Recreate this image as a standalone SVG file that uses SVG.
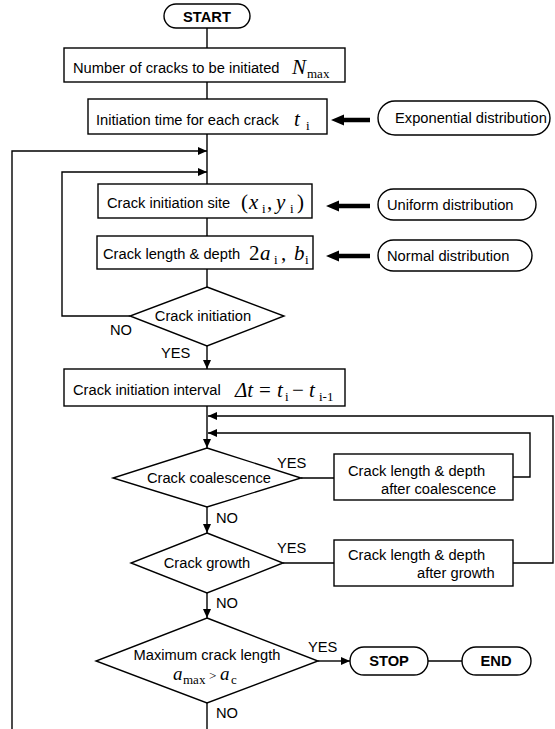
<svg xmlns="http://www.w3.org/2000/svg" width="555" height="729" viewBox="0 0 555 729">
<defs>
<style>
.t{font-family:"Liberation Sans",Arial,sans-serif;font-size:14.7px;fill:#000}
.b{font-weight:bold}
.m{font-family:"Liberation Serif","Times New Roman",serif;font-size:21px;font-style:italic;fill:#000}
.u{font-style:normal}
.sb{font-size:13px;font-style:normal}
.box{fill:#fff;stroke:#000;stroke-width:1.4}
.ln{fill:none;stroke:#000;stroke-width:1.4}
.arr{marker-end:url(#ah)}
.thick{fill:#000;stroke:none}
</style>
<marker id="ah" markerWidth="10" markerHeight="8" refX="9" refY="4" orient="auto" markerUnits="userSpaceOnUse"><path d="M0,0 L9,4 L0,8 z" fill="#000"/></marker>
</defs>
<rect width="555" height="729" fill="#fff"/>

<g id="connectors">
<path class="ln" d="M207,28 V48 M207,82 V99 M207,134 V184 M207,218 V236 M207,269 V287"/>
<path class="ln arr" d="M207,346 V369"/>
<path class="ln arr" d="M207,406 V448"/>
<path class="ln arr" d="M207,507 V533"/>
<path class="ln arr" d="M207,593 V618"/>
<path class="ln" d="M207,703 V729"/>
<path class="ln arr" d="M12,729 V151 H207"/>
<path class="ln arr" d="M130,316 H62 V172 H207"/>
<path class="ln" d="M301,478 H334 M283,563 H334"/>
<path class="ln arr" d="M513,477 H530 V433 H208"/>
<path class="ln arr" d="M513,563 H553 V416 H208"/>
<path class="ln arr" d="M318,661 H350"/>
<path class="ln" d="M428,661 H462"/>
<path class="thick" d="M331,120 L344,114.5 L344,117.8 L370,117.8 L370,122.2 L344,122.2 L344,125.5 Z"/>
<path class="thick" d="M326,206 L339,200.5 L339,203.8 L370,203.8 L370,208.2 L339,208.2 L339,211.5 Z"/>
<path class="thick" d="M326,256 L339,250.5 L339,253.8 L370,253.8 L370,258.2 L339,258.2 L339,261.5 Z"/>
<text class="t" x="110" y="335">NO</text>
<text class="t" x="161" y="358">YES</text>
<text class="t" x="277" y="468">YES</text>
<text class="t" x="216" y="523">NO</text>
<text class="t" x="277" y="553">YES</text>
<text class="t" x="216" y="608">NO</text>
<text class="t" x="308" y="652">YES</text>
<text class="t" x="216" y="718">NO</text>
</g>

<g id="start">
<rect class="box" x="164" y="4" width="86" height="24" rx="12"/>
<text class="t b" x="207" y="21.5" text-anchor="middle">START</text>
</g>

<g id="n-max">
<rect class="box" x="64" y="48" width="281" height="34"/>
<text class="t" x="73" y="73">Number of cracks to be initiated</text>
<text class="m" x="292" y="74">N<tspan class="sb" x="307" y="78">max</tspan></text>
</g>

<g id="init-time">
<rect class="box" x="88" y="99" width="239" height="35"/>
<text class="t" x="96" y="125">Initiation time for each crack</text>
<text class="m" x="294" y="126">t<tspan class="sb" x="306" y="130">i</tspan></text>
</g>

<g id="exponential">
<rect class="box" x="378" y="101" width="172" height="34" rx="17"/>
<text class="t" x="395" y="123">Exponential distribution</text>
</g>

<g id="init-site">
<rect class="box" x="98" y="184" width="214" height="34"/>
<text class="t" x="107" y="208">Crack initiation site</text>
<text class="m" x="241" y="209"><tspan class="u">(</tspan><tspan x="249">x</tspan><tspan class="sb" x="262" y="213">i</tspan><tspan class="u" x="267" y="209">,</tspan><tspan x="276">y</tspan><tspan class="sb" x="290" y="213">i</tspan><tspan class="u" x="297" y="209">)</tspan></text>
</g>

<g id="uniform">
<rect class="box" x="378" y="189" width="158" height="31" rx="15.5"/>
<text class="t" x="387" y="210">Uniform distribution</text>
</g>

<g id="length-depth">
<rect class="box" x="97" y="236" width="216" height="33" stroke-width="2"/>
<text class="t" x="103" y="259">Crack length &amp; depth</text>
<text class="m" x="249" y="260"><tspan class="u">2</tspan><tspan x="260">a</tspan><tspan class="sb" x="274" y="264">i</tspan><tspan class="u" x="281" y="260">,</tspan><tspan x="294">b</tspan><tspan class="sb" x="305" y="264">i</tspan></text>
</g>

<g id="normal">
<rect class="box" x="378" y="240" width="154" height="31" rx="15.5"/>
<text class="t" x="387" y="261">Normal distribution</text>
</g>

<g id="crack-initiation">
<polygon class="box" points="207,287 284,316 207,346 130,316"/>
<text class="t" x="203" y="321" text-anchor="middle">Crack initiation</text>
</g>

<g id="interval">
<rect class="box" x="64" y="369" width="281" height="37"/>
<text class="t" x="73" y="395">Crack initiation interval</text>
<text class="m" x="235" y="397">Δt<tspan class="u" x="259">=</tspan><tspan x="277">t</tspan><tspan class="sb" x="285" y="401">i</tspan><tspan class="u" x="292" y="397">−</tspan><tspan x="309">t</tspan><tspan class="sb" x="319" y="401">i-1</tspan></text>
</g>

<g id="coalescence">
<polygon class="box" points="207,448 301,478 207,507 113,478"/>
<text class="t" x="209" y="483" text-anchor="middle">Crack coalescence</text>
</g>

<g id="after-coalescence">
<rect class="box" x="334" y="454" width="179" height="46"/>
<text class="t" x="348" y="476">Crack length &amp; depth</text>
<text class="t" x="381" y="494">after coalescence</text>
</g>

<g id="growth">
<polygon class="box" points="207,533 283,563 207,593 131,563"/>
<text class="t" x="207" y="568" text-anchor="middle">Crack growth</text>
</g>

<g id="after-growth">
<rect class="box" x="334" y="540" width="179" height="46"/>
<text class="t" x="348" y="560">Crack length &amp; depth</text>
<text class="t" x="417" y="578">after growth</text>
</g>

<g id="max-length">
<polygon class="box" points="207,618 318,661 207,703 96,661"/>
<text class="t" x="207" y="660" text-anchor="middle">Maximum crack length</text>
<text class="m" x="173" y="680" style="font-size:19px">a<tspan class="sb" x="183" y="684">max</tspan><tspan class="sb" x="209" y="680">&gt;</tspan><tspan x="220">a</tspan><tspan class="sb" x="231" y="684">c</tspan></text>
</g>

<g id="stop">
<rect class="box" x="350" y="647" width="78" height="28" rx="14"/>
<text class="t b" x="389" y="666" text-anchor="middle">STOP</text>
</g>

<g id="end">
<rect class="box" x="462" y="647" width="69" height="28" rx="14"/>
<text class="t b" x="496" y="666" text-anchor="middle">END</text>
</g>
</svg>
